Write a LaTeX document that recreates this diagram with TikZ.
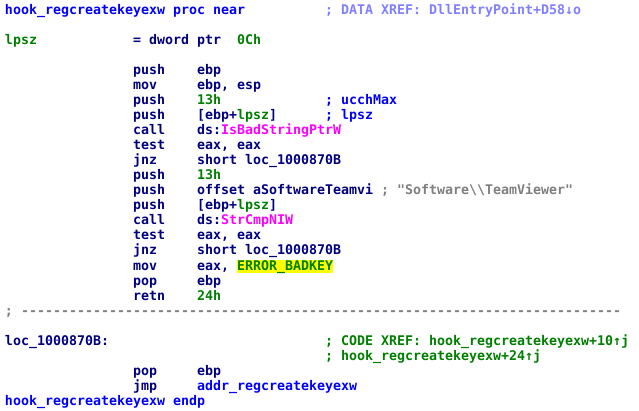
\documentclass[tikz,border=0pt]{standalone}
\usepackage{fontspec}
\newfontfamily\ida{DejaVu Sans Mono}
\definecolor{idanavy}{RGB}{0,0,128}
\definecolor{idablue}{RGB}{0,0,255}
\definecolor{idagreen}{RGB}{0,128,0}
\definecolor{idamag}{RGB}{255,0,255}
\definecolor{idaxref}{RGB}{128,128,255}
\definecolor{idagray}{RGB}{128,128,128}
\definecolor{idayellow}{RGB}{255,255,0}
\newcommand\gr[1]{\textcolor{idagreen}{#1}}
\newcommand\mg[1]{\textcolor{idamag}{#1}}
\begin{document}
\begin{tikzpicture}[x=8pt,y=-15pt,
  t/.style={anchor=base west, inner sep=0pt, outer sep=0pt, font=\fontsize{13.29pt}{15pt}\ida\bfseries, text=idanavy},
  lbl/.style={t, text=idablue},
  cmt/.style={t, text=idablue},
  xref/.style={t, text=idaxref},
  gcmt/.style={t, text=idagreen},
  str/.style={t, text=idagray},
  hl/.style={t, text=idagreen, fill=idayellow, text height=10pt, text depth=3pt}]
\fill[white] (-0.625,-1) rectangle (79.25,26.4);
\useasboundingbox (-0.625,-1) rectangle (79.25,26.4);
% row 0
\node[lbl] (r0a) at (0,0) {hook\_regcreatekeyexw proc near};
\node[xref] (r0c) at (40,0) {; DATA XREF: DllEntryPoint+D58↓o};
% row 2
\node[t, text=idagreen] (r2a) at (0,2) {lpsz};
\node[t] (r2b) at (16,2) {= dword ptr};
\node[t, text=idagreen] (r2c) at (29,2) {0Ch};
% code
\node[t] (r4m) at (16,4) {push};  \node[t] (r4o) at (24,4) {ebp};
\node[t] (r5m) at (16,5) {mov};   \node[t] (r5o) at (24,5) {ebp, esp};
\node[t] (r6m) at (16,6) {push};  \node[t, text=idagreen] (r6o) at (24,6) {13h};
\node[cmt] (r6c) at (40,6) {; ucchMax};
\node[t] (r7m) at (16,7) {push};  \node[t] (r7o) at (24,7) {[ebp+\gr{lpsz}]};
\node[cmt] (r7c) at (40,7) {; lpsz};
\node[t] (r8m) at (16,8) {call};  \node[t] (r8o) at (24,8) {ds:\mg{IsBadStringPtrW}};
\node[t] (r9m) at (16,9) {test};  \node[t] (r9o) at (24,9) {eax, eax};
\node[t] (r10m) at (16,10) {jnz}; \node[t] (r10o) at (24,10) {short loc\_1000870B};
\node[t] (r11m) at (16,11) {push}; \node[t, text=idagreen] (r11o) at (24,11) {13h};
\node[t] (r12m) at (16,12) {push}; \node[t] (r12o) at (24,12) {offset aSoftwareTeamvi};
\node[str] (r12c) at (47,12) {; "Software\textbackslash\textbackslash TeamViewer"};
\node[t] (r13m) at (16,13) {push}; \node[t] (r13o) at (24,13) {[ebp+\gr{lpsz}]};
\node[t] (r14m) at (16,14) {call}; \node[t] (r14o) at (24,14) {ds:\mg{StrCmpNIW}};
\node[t] (r15m) at (16,15) {test}; \node[t] (r15o) at (24,15) {eax, eax};
\node[t] (r16m) at (16,16) {jnz};  \node[t] (r16o) at (24,16) {short loc\_1000870B};
\node[t] (r17m) at (16,17) {mov};  \node[t] (r17o) at (24,17) {eax,};
\node[hl] (r17h) at (29,17) {ERROR\_BADKEY};
\node[t] (r18m) at (16,18) {pop};  \node[t] (r18o) at (24,18) {ebp};
\node[t] (r19m) at (16,19) {retn}; \node[t, text=idagreen] (r19o) at (24,19) {24h};
% separator
\node[str] (r20a) at (0,20) {; ---------------------------------------------------------------------------};
% loc block
\node[t] (r22a) at (0,22) {loc\_1000870B:};
\node[gcmt] (r22c) at (40,22) {; CODE XREF: hook\_regcreatekeyexw+10↑j};
\node[gcmt] (r23c) at (40,23) {; hook\_regcreatekeyexw+24↑j};
\node[t] (r24m) at (16,24) {pop};  \node[t] (r24o) at (24,24) {ebp};
\node[t] (r25m) at (16,25) {jmp};  \node[t, text=idablue] (r25o) at (24,25) {addr\_regcreatekeyexw};
\node[lbl] (r26a) at (0,26) {hook\_regcreatekeyexw endp};
\end{tikzpicture}
\end{document}
